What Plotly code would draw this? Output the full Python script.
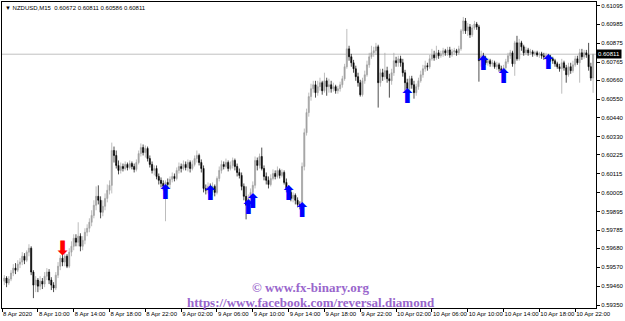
import plotly.graph_objects as go
import pandas as pd
import numpy as np

symbol = "NZDUSD,M15"
start_time = "2020-04-08 06:15"

open_pts = [
    59489, 59507, 59478, 59501, 59536, 59565, 59553, 59588, 59600, 59634,
    59611, 59658, 59681, 59542, 59466, 59495, 59460, 59489, 59472, 59518,
    59542, 59495, 59466, 59449, 59524, 59576, 59623, 59600, 59634, 59576,
    59658, 59692, 59739, 59716, 59751, 59692, 59727, 59774, 59797, 59832,
    59872, 59931, 59983, 59960, 59890, 59925, 59971, 60018, 60047, 60250,
    60221, 60163, 60134, 60157, 60145, 60169, 60151, 60174, 60157, 60140,
    60180, 60232, 60267, 60238, 60262, 60203, 60169, 60134, 60145, 60099,
    60076, 60058, 60041, 60064, 60052, 60082, 60099, 60087, 60134, 60157,
    60145, 60169, 60151, 60180, 60145, 60169, 60203, 60221, 60180, 60145,
    60029, 60018, 60041, 60018, 60041, 60006, 60087, 60134, 60169, 60157,
    60180, 60145, 60163, 60192, 60157, 60122, 60105, 60041, 59983, 59931,
    59971, 60006, 60047, 60192, 60163, 60215, 60145, 60099, 60076, 60052,
    60087, 60116, 60099, 60134, 60105, 60122, 60064, 60029, 60006, 59971,
    59989, 59960, 59936, 59925, 60157, 60354, 60471, 60564, 60610, 60633,
    60587, 60622, 60645, 60598, 60656, 60622, 60633, 60610, 60622, 60598,
    60610, 60633, 60668, 60738, 60842, 60796, 60761, 60726, 60680, 60645,
    60575, 60656, 60691, 60749, 60796, 60819, 60831, 60854, 60645, 60703,
    60680, 60715, 60668, 60656, 60703, 60773, 60761, 60784, 60761, 60703,
    60645, 60610, 60668, 60633, 60587, 60622, 60656, 60691, 60726, 60744,
    60738, 60784, 60807, 60790, 60819, 60802, 60813, 60831, 60819, 60836,
    60807, 60825, 60831, 60819, 60842, 60947, 61005, 60947, 60970, 60924,
    60964, 60987, 60970, 60773, 60802, 60784, 60761, 60773, 60755, 60761,
    60738, 60749, 60726, 60715, 60732, 60767, 60802, 60819, 60755, 60877,
    60784, 60877, 60854, 60819, 60836, 60819, 60825, 60813, 60819, 60807,
    60813, 60802, 60796, 60802, 60790, 60784, 60773, 60755, 60738, 60726,
    60761, 60732, 60691, 60738, 60715, 60749, 60784, 60761, 60819, 60796,
    60819, 60807, 60738, 60672,
]
high_pts = [
    59524, 59518, 59518, 59553, 59588, 59594, 59611, 59623, 59658, 59652,
    59669, 59704, 59692, 59553, 59518, 59507, 59518, 59507, 59542, 59565,
    59559, 59512, 59483, 59542, 59600, 59640, 59646, 59658, 59646, 59681,
    59721, 59762, 59762, 59832, 59768, 59751, 59797, 59820, 59855, 59902,
    59960, 60041, 60047, 59983, 59960, 60000, 60052, 60076, 60296, 60273,
    60250, 60192, 60180, 60174, 60186, 60180, 60192, 60186, 60174, 60198,
    60250, 60291, 60285, 60279, 60273, 60221, 60186, 60163, 60163, 60116,
    60093, 60076, 60076, 60087, 60099, 60122, 60116, 60151, 60180, 60174,
    60192, 60186, 60198, 60192, 60192, 60221, 60250, 60232, 60198, 60163,
    60052, 60064, 60058, 60064, 60052, 60099, 60157, 60192, 60186, 60203,
    60192, 60186, 60209, 60203, 60174, 60145, 60122, 60058, 60041, 59994,
    60029, 60070, 60215, 60209, 60232, 60267, 60163, 60122, 60099, 60111,
    60140, 60134, 60157, 60145, 60140, 60134, 60087, 60047, 60023, 60006,
    60000, 59977, 59954, 60180, 60378, 60494, 60587, 60639, 60656, 60656,
    60656, 60674, 60656, 60703, 60674, 60668, 60656, 60645, 60633, 60627,
    60651, 60685, 60755, 60958, 60860, 60813, 60778, 60744, 60703, 60662,
    60674, 60715, 60773, 60819, 60860, 60854, 60877, 60866, 60726, 60726,
    60819, 60738, 60697, 60726, 60819, 60796, 60802, 60802, 60784, 60720,
    60668, 60685, 60685, 60656, 60639, 60674, 60715, 60749, 60773, 60761,
    60807, 60842, 60831, 60860, 60836, 60831, 60848, 60842, 60854, 60854,
    60842, 60848, 60842, 60860, 60958, 61028, 61022, 60993, 60987, 60982,
    61005, 60999, 60982, 60831, 60819, 60802, 60790, 60784, 60778, 60773,
    60767, 60761, 60744, 60749, 60784, 60819, 60836, 60831, 60889, 60918,
    60900, 60889, 60866, 60854, 60848, 60842, 60836, 60831, 60831, 60825,
    60825, 60819, 60819, 60813, 60807, 60796, 60784, 60767, 60755, 60784,
    60773, 60749, 60761, 60761, 60773, 60802, 60802, 60842, 60842, 60836,
    60836, 60877, 60761, 60811,
]
low_pts = [
    59466, 59454, 59466, 59489, 59518, 59530, 59542, 59565, 59582, 59588,
    59600, 59634, 59524, 59390, 59425, 59425, 59437, 59443, 59454, 59495,
    59472, 59437, 59425, 59437, 59507, 59553, 59576, 59576, 59565, 59565,
    59634, 59669, 59692, 59692, 59663, 59669, 59704, 59751, 59774, 59809,
    59855, 59902, 59936, 59855, 59867, 59902, 59948, 59994, 60000, 60180,
    60145, 60111, 60116, 60128, 60134, 60134, 60140, 60140, 60122, 60128,
    60169, 60215, 60221, 60209, 60186, 60151, 60116, 60105, 60082, 60052,
    60035, 60018, 59838, 60029, 60029, 60064, 60070, 60076, 60116, 60122,
    60134, 60134, 60128, 60122, 60134, 60157, 60180, 60163, 60122, 60006,
    59994, 60000, 59983, 59989, 59983, 59994, 60070, 60116, 60140, 60145,
    60128, 60134, 60145, 60134, 60099, 60087, 60018, 59960, 59849, 59890,
    59948, 59983, 60029, 60134, 60145, 60134, 60076, 60052, 60029, 60041,
    60076, 60082, 60087, 60087, 60093, 60052, 60006, 59989, 59954, 59948,
    59936, 59919, 59907, 59907, 60134, 60337, 60447, 60540, 60587, 60558,
    60569, 60598, 60575, 60587, 60569, 60587, 60587, 60593, 60581, 60581,
    60593, 60616, 60656, 60726, 60773, 60738, 60703, 60656, 60622, 60564,
    60564, 60639, 60680, 60732, 60784, 60796, 60807, 60500, 60622, 60656,
    60662, 60645, 60558, 60633, 60685, 60738, 60738, 60738, 60680, 60598,
    60581, 60598, 60610, 60552, 60569, 60604, 60645, 60674, 60709, 60715,
    60726, 60773, 60773, 60778, 60784, 60790, 60796, 60802, 60802, 60790,
    60796, 60807, 60802, 60807, 60831, 60929, 60929, 60918, 60906, 60912,
    60953, 60953, 60651, 60738, 60761, 60749, 60744, 60738, 60738, 60726,
    60720, 60709, 60703, 60703, 60720, 60755, 60784, 60738, 60685, 60773,
    60773, 60831, 60802, 60807, 60802, 60807, 60796, 60802, 60796, 60790,
    60784, 60778, 60778, 60773, 60767, 60755, 60738, 60726, 60709, 60581,
    60715, 60645, 60680, 60697, 60703, 60738, 60749, 60645, 60778, 60784,
    60790, 60715, 60656, 60586,
]
close_pts = [
    59507, 59478, 59501, 59536, 59565, 59553, 59588, 59600, 59634, 59611,
    59658, 59681, 59542, 59466, 59495, 59460, 59489, 59472, 59518, 59542,
    59495, 59466, 59449, 59524, 59576, 59623, 59600, 59634, 59576, 59658,
    59692, 59739, 59716, 59751, 59692, 59727, 59774, 59797, 59832, 59872,
    59931, 59983, 59960, 59890, 59925, 59971, 60018, 60047, 60250, 60221,
    60163, 60134, 60157, 60145, 60169, 60151, 60174, 60157, 60140, 60180,
    60232, 60267, 60238, 60262, 60203, 60169, 60134, 60145, 60099, 60076,
    60058, 60041, 60064, 60052, 60082, 60099, 60087, 60134, 60157, 60145,
    60169, 60151, 60180, 60145, 60169, 60203, 60221, 60180, 60145, 60029,
    60018, 60041, 60018, 60041, 60006, 60087, 60134, 60169, 60157, 60180,
    60145, 60163, 60192, 60157, 60122, 60105, 60041, 59983, 59931, 59971,
    60006, 60047, 60192, 60163, 60215, 60145, 60099, 60076, 60052, 60087,
    60116, 60099, 60134, 60105, 60122, 60064, 60029, 60006, 59971, 59989,
    59960, 59936, 59925, 60157, 60354, 60471, 60564, 60610, 60633, 60587,
    60622, 60645, 60598, 60656, 60622, 60633, 60610, 60622, 60598, 60610,
    60633, 60668, 60738, 60842, 60796, 60761, 60726, 60680, 60645, 60575,
    60656, 60691, 60749, 60796, 60819, 60831, 60854, 60645, 60703, 60680,
    60715, 60668, 60656, 60703, 60773, 60761, 60784, 60761, 60703, 60645,
    60610, 60668, 60633, 60587, 60622, 60656, 60691, 60726, 60744, 60738,
    60784, 60807, 60790, 60819, 60802, 60813, 60831, 60819, 60836, 60807,
    60825, 60831, 60819, 60842, 60947, 61005, 60947, 60970, 60924, 60964,
    60987, 60970, 60773, 60802, 60784, 60761, 60773, 60755, 60761, 60738,
    60749, 60726, 60715, 60732, 60767, 60802, 60819, 60755, 60877, 60784,
    60877, 60854, 60819, 60836, 60819, 60825, 60813, 60819, 60807, 60813,
    60802, 60796, 60802, 60790, 60784, 60773, 60755, 60738, 60726, 60761,
    60732, 60691, 60738, 60715, 60749, 60784, 60761, 60819, 60796, 60819,
    60807, 60738, 60672, 60811,
]

up_arrow_bars = [72, 92, 109, 111, 127, 133, 180, 214, 223, 243]
up_arrow_pts = [59994, 59989, 59907, 59942, 59989, 59890, 60558, 60749, 60674, 60755]
down_arrow_bars = [26]
down_arrow_pts = [59669]

price_labels = ["0.61095", "0.60985", "0.60875", "0.60765", "0.60660", "0.60550",
                "0.60440", "0.60330", "0.60225", "0.60115", "0.60005", "0.59895",
                "0.59785", "0.59680", "0.59570", "0.59460", "0.59350"]
time_ticks = ["2020-04-08 06:00", "2020-04-08 10:00", "2020-04-08 14:00", "2020-04-08 18:00",
              "2020-04-08 22:00", "2020-04-09 02:00", "2020-04-09 06:00", "2020-04-09 10:00",
              "2020-04-09 14:00", "2020-04-09 18:00", "2020-04-09 22:00", "2020-04-10 02:00",
              "2020-04-10 06:00", "2020-04-10 10:00", "2020-04-10 14:00", "2020-04-10 18:00",
              "2020-04-10 22:00"]
time_labels = ["8 Apr 2020", "8 Apr 10:00", "8 Apr 14:00", "8 Apr 18:00", "8 Apr 22:00",
               "9 Apr 02:00", "9 Apr 06:00", "9 Apr 10:00", "9 Apr 14:00", "9 Apr 18:00",
               "9 Apr 22:00", "10 Apr 02:00", "10 Apr 06:00", "10 Apr 10:00", "10 Apr 14:00",
               "10 Apr 18:00", "10 Apr 22:00"]

x_range = ["2020-04-08 05:59:30", "2020-04-11 00:19:30"]
y_range = [0.593326, 0.61115]

times = pd.date_range(start_time, periods=len(close_pts), freq="15min")
o = np.array(open_pts) / 1e5
h = np.array(high_pts) / 1e5
l = np.array(low_pts) / 1e5
c = np.array(close_pts) / 1e5

UP = "#a0a0a0"
DN = "#000000"

fig = go.Figure()
fig.add_trace(go.Candlestick(
    x=times, open=o, high=h, low=l, close=c,
    increasing=dict(line=dict(color=UP, width=0.7), fillcolor=UP),
    decreasing=dict(line=dict(color=DN, width=0.7), fillcolor=DN),
    whiskerwidth=0, hoverinfo="skip", showlegend=False,
))

fig.add_trace(go.Scatter(
    x=times[up_arrow_bars], y=np.array(up_arrow_pts) / 1e5, mode="text",
    text=["\u2b06"] * len(up_arrow_bars), textposition="middle center",
    textfont=dict(family="DejaVu Sans", size=20, color="#0000ff"),
    showlegend=False, hoverinfo="skip",
))
fig.add_trace(go.Scatter(
    x=times[down_arrow_bars], y=np.array(down_arrow_pts) / 1e5, mode="text",
    text=["\u2b07"] * len(down_arrow_bars), textposition="middle center",
    textfont=dict(family="DejaVu Sans", size=20, color="#ff0000"),
    showlegend=False, hoverinfo="skip",
))

last_o, last_h, last_l, last_c = o[-1], h[-1], l[-1], c[-1]

fig.add_shape(type="line", xref="paper", x0=0, x1=1, yref="y", y0=last_c, y1=last_c,
              line=dict(color="#c0c0c0", width=1), layer="below")

fig.add_annotation(xref="paper", yref="paper", x=0, y=1, xanchor="left", yanchor="top",
                   xshift=1, yshift=-1, showarrow=False,
                   text=f"\u25bc {symbol}  {last_o:.5f} {last_h:.5f} {last_l:.5f} {last_c:.5f}",
                   font=dict(family="Liberation Sans", size=6, color="#000000"))
fig.add_annotation(xref="paper", yref="y", x=1, y=last_c, xanchor="left", yanchor="middle",
                   showarrow=False, text=f"{last_c:.5f}", bgcolor="#000000", borderpad=1,
                   font=dict(family="Liberation Sans", size=6, color="#ffffff"))

wm_font = dict(family="Liberation Serif", size=13, color="#9966cc")
fig.add_annotation(xref="paper", yref="paper", x=0.52, y=0.068, xanchor="center", yanchor="middle",
                   showarrow=False, text="<b>\u00a9 www.fx-binary.org</b>", font=wm_font)
fig.add_annotation(xref="paper", yref="paper", x=0.52, y=0.0195, xanchor="center", yanchor="middle",
                   showarrow=False, text="<b>https://www.facebook.com/reversal.diamond</b>", font=wm_font)

fig.update_layout(
    width=625, height=321,
    margin=dict(l=2, r=26, t=1, b=13),
    paper_bgcolor="#ffffff", plot_bgcolor="#ffffff",
    showlegend=False,
    font=dict(family="Liberation Sans", size=6, color="#000000"),
)
fig.update_xaxes(
    type="date", range=x_range, rangeslider=dict(visible=False),
    showgrid=False, zeroline=False,
    showline=True, linecolor="#000000", linewidth=1, mirror=True,
    ticks="outside", ticklen=3, tickcolor="#000000", tickwidth=1,
    tickmode="array", tickvals=time_ticks, ticktext=time_labels, tickangle=0,
    ticklabelposition="outside right", tickfont=dict(size=6, color="#000000"),
)
fig.update_yaxes(
    side="right", range=y_range,
    showgrid=False, zeroline=False,
    showline=True, linecolor="#000000", linewidth=1, mirror=True,
    ticks="outside", ticklen=3, tickcolor="#000000", tickwidth=1,
    tickmode="array", tickvals=[float(v) for v in price_labels], ticktext=price_labels,
    tickfont=dict(size=6, color="#000000"),
)

fig.write_html("out.html")
